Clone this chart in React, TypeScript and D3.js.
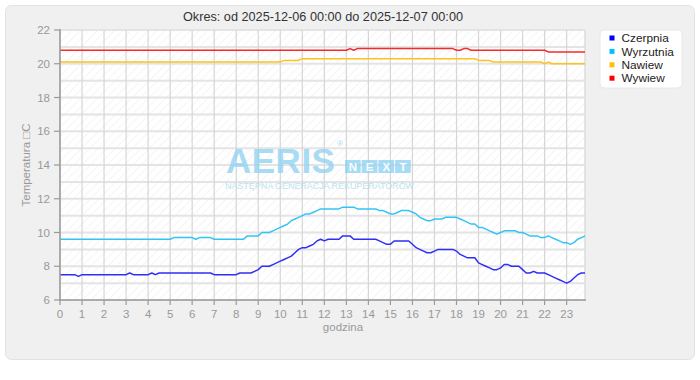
import React from "react";
import * as d3 from "d3";

const TITLE = "Okres: od 2025-12-06 00:00 do 2025-12-07 00:00";
const SERIES_NAMES = ["Czerpnia", "Wyrzutnia", "Nawiew", "Wywiew"];
const SERIES_COLORS = ["#0000ff", "#00c0ff", "#ffc000", "#ff0000"];
const LINE_COLORS = ["#2f2ff5", "#33c4f5", "#ffc21a", "#f52a2a"];
const X_TICKS = d3.range(0, 24);
const Y_TICKS = [6, 8, 10, 12, 14, 16, 18, 20, 22];
const Y_GRID = d3.range(6, 23);

// 10-minute samples, 00:00 .. 23:50
const czerpnia = [
  7.5,7.5,7.5,7.5,7.5,7.4,7.5,7.5,7.5,7.5,7.5,7.5,
  7.5,7.5,7.5,7.5,7.5,7.5,7.5,7.6,7.5,7.5,7.5,7.5,
  7.5,7.6,7.5,7.6,7.6,7.6,7.6,7.6,7.6,7.6,7.6,7.6,
  7.6,7.6,7.6,7.6,7.6,7.6,7.5,7.5,7.5,7.5,7.5,7.5,
  7.5,7.6,7.6,7.6,7.6,7.7,7.8,8.0,8.0,8.0,8.1,8.2,
  8.3,8.4,8.5,8.6,8.8,9.0,9.1,9.1,9.2,9.3,9.5,9.6,
  9.5,9.6,9.6,9.6,9.6,9.8,9.8,9.8,9.6,9.6,9.6,9.6,
  9.6,9.6,9.6,9.5,9.4,9.3,9.3,9.5,9.5,9.5,9.5,9.5,
  9.3,9.1,9.0,8.9,8.8,8.8,8.9,9.0,9.0,9.0,9.0,9.0,
  8.9,8.7,8.6,8.5,8.5,8.5,8.2,8.1,8.0,7.9,7.8,7.8,
  7.9,8.1,8.1,8.0,8.0,8.0,7.8,7.6,7.6,7.7,7.6,7.6,
  7.6,7.5,7.4,7.3,7.2,7.1,7.0,7.1,7.3,7.5,7.6,7.6,
];
const wyrzutnia = [
  9.6,9.6,9.6,9.6,9.6,9.6,9.6,9.6,9.6,9.6,9.6,9.6,
  9.6,9.6,9.6,9.6,9.6,9.6,9.6,9.6,9.6,9.6,9.6,9.6,
  9.6,9.6,9.6,9.6,9.6,9.6,9.6,9.7,9.7,9.7,9.7,9.7,
  9.7,9.6,9.7,9.7,9.7,9.7,9.6,9.6,9.6,9.6,9.6,9.6,
  9.6,9.6,9.6,9.8,9.8,9.8,9.8,10.0,10.0,10.0,10.1,10.2,
  10.3,10.4,10.5,10.7,10.8,10.9,11.0,11.1,11.1,11.2,11.3,11.4,
  11.4,11.4,11.4,11.4,11.4,11.5,11.5,11.5,11.5,11.4,11.4,11.4,
  11.4,11.4,11.4,11.3,11.3,11.2,11.1,11.1,11.2,11.3,11.3,11.3,
  11.2,11.1,10.9,10.8,10.7,10.7,10.8,10.8,10.8,10.9,10.9,10.9,
  10.9,10.8,10.7,10.6,10.5,10.5,10.3,10.3,10.2,10.1,10.0,9.9,
  10.0,10.1,10.1,10.1,10.1,10.0,10.0,9.9,9.8,9.8,9.8,9.7,
  9.7,9.8,9.7,9.6,9.5,9.4,9.4,9.3,9.4,9.6,9.7,9.8,
];
const nawiew = [
  20.1,20.1,20.1,20.1,20.1,20.1,20.1,20.1,20.1,20.1,20.1,20.1,
  20.1,20.1,20.1,20.1,20.1,20.1,20.1,20.1,20.1,20.1,20.1,20.1,
  20.1,20.1,20.1,20.1,20.1,20.1,20.1,20.1,20.1,20.1,20.1,20.1,
  20.1,20.1,20.1,20.1,20.1,20.1,20.1,20.1,20.1,20.1,20.1,20.1,
  20.1,20.1,20.1,20.1,20.1,20.1,20.1,20.1,20.1,20.1,20.1,20.1,
  20.1,20.2,20.2,20.2,20.2,20.2,20.3,20.3,20.3,20.3,20.3,20.3,
  20.3,20.3,20.3,20.3,20.3,20.3,20.3,20.3,20.3,20.3,20.3,20.3,
  20.3,20.3,20.3,20.3,20.3,20.3,20.3,20.3,20.3,20.3,20.3,20.3,
  20.3,20.3,20.3,20.3,20.3,20.3,20.3,20.3,20.3,20.3,20.3,20.3,
  20.3,20.3,20.3,20.3,20.3,20.3,20.2,20.2,20.2,20.2,20.1,20.1,
  20.1,20.1,20.1,20.1,20.1,20.1,20.1,20.1,20.1,20.1,20.1,20.1,
  20.0,20.1,20.0,20.0,20.0,20.0,20.0,20.0,20.0,20.0,20.0,20.0,
];
const wywiew = [
  20.8,20.8,20.8,20.8,20.8,20.8,20.8,20.8,20.8,20.8,20.8,20.8,
  20.8,20.8,20.8,20.8,20.8,20.8,20.8,20.8,20.8,20.8,20.8,20.8,
  20.8,20.8,20.8,20.8,20.8,20.8,20.8,20.8,20.8,20.8,20.8,20.8,
  20.8,20.8,20.8,20.8,20.8,20.8,20.8,20.8,20.8,20.8,20.8,20.8,
  20.8,20.8,20.8,20.8,20.8,20.8,20.8,20.8,20.8,20.8,20.8,20.8,
  20.8,20.8,20.8,20.8,20.8,20.8,20.8,20.8,20.8,20.8,20.8,20.8,
  20.8,20.8,20.8,20.8,20.8,20.8,20.8,20.9,20.8,20.9,20.9,20.9,
  20.9,20.9,20.9,20.9,20.9,20.9,20.9,20.9,20.9,20.9,20.9,20.9,
  20.9,20.9,20.9,20.9,20.9,20.9,20.9,20.9,20.9,20.9,20.9,20.9,
  20.8,20.8,20.9,20.9,20.8,20.8,20.8,20.8,20.8,20.8,20.8,20.8,
  20.8,20.8,20.8,20.8,20.8,20.8,20.8,20.8,20.8,20.8,20.8,20.8,
  20.8,20.7,20.7,20.7,20.7,20.7,20.7,20.7,20.7,20.7,20.7,20.7,
];
const SERIES = [czerpnia, wyrzutnia, nawiew, wywiew];
const HOURS = czerpnia.map((_, i) => i / 6);

const FONT = "'Liberation Sans', Arial, sans-serif";
const WM = "#8fd3f2";

export default function App() {
  const L = 60, R = 585, T = 30, B = 300;
  const x = d3.scaleLinear().domain([0, HOURS[HOURS.length - 1]]).range([L, R]);
  const y = d3.scaleLinear().domain([6, 22]).range([B, T]);
  const line = d3
    .line<number>()
    .x((_, i) => x(HOURS[i]))
    .y((d) => y(d));

  return (
    <div style={{ position: "absolute", left: 0, top: 0 }}>
      <svg width={700} height={380} style={{ display: "block", fontFamily: FONT }}>
        <defs>
          <pattern id="hatch" width={6} height={6} patternUnits="userSpaceOnUse" patternTransform="rotate(45)">
            <line x1={0} y1={0} x2={0} y2={6} stroke="#ececec" strokeWidth={1} />
          </pattern>
          <clipPath id="plotclip">
            <rect x={L} y={T - 2} width={R - L} height={B - T + 2} />
          </clipPath>
        </defs>
        <rect x={0} y={0} width={700} height={380} fill="#ffffff" />
        <rect x={5.5} y={5.5} width={689} height={354} rx={6} fill="#f0f0f0" stroke="#e2e2e2" strokeWidth={1} />

        <text x={323} y={21} textAnchor="middle" fontSize={12.7} fill="#333">
          {TITLE}
        </text>

        {/* plot background */}
        <rect x={L} y={T} width={R - L} height={B - T} fill="#ffffff" />
        <rect x={L} y={T} width={R - L} height={B - T} fill="url(#hatch)" />

        {/* grid */}
        {Y_GRID.map((v) => (
          <line key={"gy" + v} x1={L} x2={R} y1={y(v)} y2={y(v)} stroke="#e4e4e4" strokeWidth={2} />
        ))}
        {X_TICKS.map((h) => (
          <line key={"gx" + h} x1={x(h)} x2={x(h)} y1={T} y2={B} stroke="#d6d6d6" strokeWidth={1.2} />
        ))}
        <line x1={R} x2={R} y1={T} y2={B} stroke="#dddddd" strokeWidth={1.5} />

        {/* watermark */}
        <g opacity={0.78}>
          <text x={226} y={172.5} fontSize={35} fontWeight="bold" fill={WM} letterSpacing={0.5}>
            AERIS
          </text>
          <text x={337} y={146} fontSize={8} fill={WM}>®</text>
          {["N", "E", "X", "T"].map((c, i) => (
            <g key={c}>
              <rect x={345 + i * 16.7} y={160} width={15.7} height={13} fill={WM} />
              <text x={345 + i * 16.7 + 7.85} y={171} textAnchor="middle" fontSize={11.5} fontWeight="bold" fill="#ffffff">
                {c}
              </text>
            </g>
          ))}
          <text x={225} y={188.5} fontSize={9} fill="#aadcf2" textLength={189} lengthAdjust="spacingAndGlyphs">
            NASTĘPNA GENERACJA REKUPERATORÓW
          </text>
        </g>

        {/* series */}
        <g clipPath="url(#plotclip)">
          {SERIES.map((s, k) => (
            <path key={k} d={line(s) || ""} fill="none" stroke={LINE_COLORS[k]} strokeWidth={1.5} strokeLinejoin="round" />
          ))}
        </g>

        {/* axes */}
        <line x1={L} x2={L} y1={T - 1} y2={B + 1} stroke="#9a9a9a" strokeWidth={1.5} />
        <line x1={L - 1} x2={R + 1} y1={B} y2={B} stroke="#9a9a9a" strokeWidth={1.5} />
        {Y_TICKS.map((v) => (
          <g key={"ty" + v}>
            <line x1={L - 6} x2={L} y1={y(v)} y2={y(v)} stroke="#9a9a9a" strokeWidth={1.2} />
            <text x={50} y={y(v) + 4} textAnchor="end" fontSize={11.5} fill="#999">
              {v}
            </text>
          </g>
        ))}
        {X_TICKS.map((h) => (
          <g key={"tx" + h}>
            <line x1={x(h)} x2={x(h)} y1={B} y2={B + 5} stroke="#9a9a9a" strokeWidth={1.2} />
            <text x={x(h)} y={318} textAnchor="middle" fontSize={11.5} fill="#999">
              {h}
            </text>
          </g>
        ))}

        <text x={343} y={331} textAnchor="middle" fontSize={11.5} fill="#999">
          godzina
        </text>
        <text transform={`translate(30,${(T + B) / 2}) rotate(-90)`} textAnchor="middle" fontSize={11.5} fill="#999">
          Temperatura □C
        </text>

        {/* legend */}
        <rect x={600} y={30} width={82} height={58} rx={4} fill="#ffffff" stroke="#e8e8e8" strokeWidth={1} />
        {SERIES_NAMES.map((n, i) => (
          <g key={n}>
            <rect x={609.5} y={35.5 + i * 13.4} width={5} height={5} fill={SERIES_COLORS[i]} />
            <text x={621.5} y={42.2 + i * 13.4} fontSize={11.8} fill="#222">
              {n}
            </text>
          </g>
        ))}
      </svg>
    </div>
  );
}
